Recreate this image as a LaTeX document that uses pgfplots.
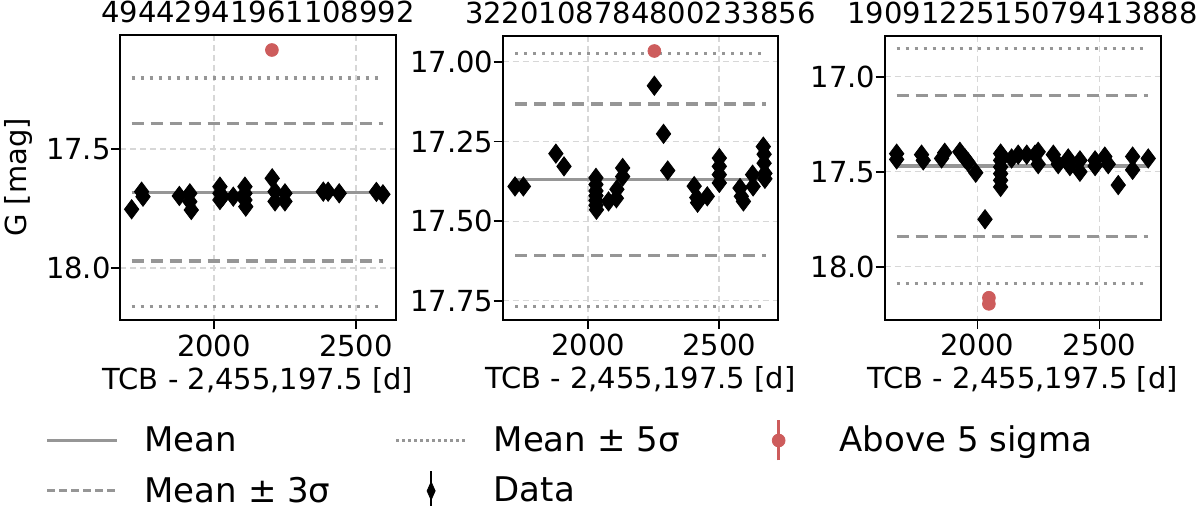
\documentclass[border=0pt]{standalone}
\usepackage{pgfplots}
\pgfplotsset{compat=1.18}
\usepackage{fontspec}
\setmainfont{DejaVu Sans}
\definecolor{lgray}{RGB}{150,150,150}
\definecolor{ired}{RGB}{205,92,92}
\definecolor{gridc}{RGB}{215,215,215}

\pgfplotsset{
  every axis title shift=0pt,
  panel/.style={
    scale only axis, width=138pt, height=142.5pt,
    y dir=reverse,
    axis line style={line width=0.9pt},
    every tick/.style={line width=0.9pt, black},
    major tick length=4.5pt,
    tick align=outside,
    xtick={2000,2500},
    xtick pos=bottom, ytick pos=left,
    grid=major,
    major grid style={gridc, line width=0.6pt, dash pattern=on 3pt off 2pt},
    ticklabel style={font=\fontsize{14.5}{16}\selectfont},
    /pgf/number format/assume math mode=true,
    /pgf/number format/set thousands separator={},
    xticklabel style={anchor=base, inner sep=0pt, yshift=-13.5pt},
    yticklabel style={anchor=east, inner sep=0pt},
    xlabel={TCB - 2,455,197.5 [d]},
    xlabel style={font=\fontsize{14.5}{16}\selectfont, at={(axis description cs:0.5,0)}, anchor=base, yshift=-34.5pt},
    title style={font=\fontsize{14.5}{16}\selectfont, at={(axis description cs:0.5,1)}, anchor=base, yshift=6pt},
    clip=false,
  },
  meanl/.style={lgray, line width=1.6pt, no marks},
  s3l/.style={lgray, line width=1.6pt, no marks, dash pattern=on 6pt off 3.5pt},
  s5l/.style={lgray, line width=1.6pt, no marks, dash pattern=on 1.5pt off 3pt},
  datal/.style={only marks, mark=diamond*, mark size=4.8pt, mark options={fill=black, draw=black, line width=0.4pt}},
  redl/.style={only marks, mark=*, mark size=3.2pt, mark options={fill=ired, draw=ired}},
}

\begin{document}
\begin{tikzpicture}
\useasboundingbox (0pt,0pt) rectangle (600pt,-253pt);

% ---------- Panel 1
\begin{axis}[panel, at={(60pt,-17.5pt)}, anchor=north west,
  xmin=1669, xmax=2641, ymin=17.021, ymax=18.218,
  ytick={17.5,18.0},
  yticklabel style={/pgf/number format/.cd, fixed, fixed zerofill, precision=1},
  ylabel={G [mag]},
  ylabel style={font=\fontsize{14.5}{16}\selectfont, at={(axis description cs:-0.366,0.5)}, anchor=center},
  title={49442941961108992},
  legend columns=3,
  legend cell align=left,
  legend style={at={(axis description cs:-0.2717,-0.347)}, anchor=north west, draw=none, fill=none,
    inner sep=0pt, font=\fontsize{17}{19}\selectfont, row sep=4pt,
    /tikz/every even column/.append style={column sep=30pt},
    /tikz/every odd column/.append style={column sep=11pt}},
]
\addplot[meanl, forget plot] coordinates {(1710,17.682) (2595,17.682)};
\addplot[s3l, forget plot] coordinates {(1710,17.394) (2595,17.394)};
\addplot[s3l, forget plot] coordinates {(1710,17.970) (2595,17.970)};
\addplot[s5l, forget plot] coordinates {(1710,17.202) (2595,17.202)};
\addplot[s5l, forget plot] coordinates {(1710,18.162) (2595,18.162)};
\addplot[datal, forget plot] table {
x y
1710 17.753
1745 17.679
1750 17.700
1878 17.697
1915 17.686
1915 17.721
1920 17.756
2021 17.658
2021 17.686
2021 17.714
2030 17.700
2068 17.700
2109 17.658
2109 17.686
2109 17.714
2112 17.742
2205 17.623
2215 17.679
2215 17.720
2250 17.686
2250 17.720
2385 17.679
2402 17.679
2441 17.686
2572 17.680
2595 17.690
};
\addplot[redl, forget plot] coordinates {(2204,17.084)};

\addlegendimage{legend image code/.code={\path[draw=none,fill=none] (0pt,-10pt) rectangle (35pt,10pt); \draw[lgray, line width=1.6pt, solid] (0pt,0pt)--(35pt,0pt);}}
\addlegendentry{Mean}
\addlegendimage{legend image code/.code={\path[draw=none,fill=none] (0pt,-10pt) rectangle (35pt,10pt); \draw[lgray, line width=1.6pt, dash pattern=on 1.2pt off 1.8pt] (0pt,0pt)--(35pt,0pt);}}
\addlegendentry{Mean ± 5σ}
\addlegendimage{legend image code/.code={\path[draw=none,fill=none] (0pt,-10pt) rectangle (35pt,10pt); \draw[ired, line width=1.2pt, solid] (17.5pt,-10pt)--(17.5pt,10pt); \fill[ired] (17.5pt,0pt) circle (3.2pt);}}
\addlegendentry{Above 5 sigma}
\addlegendimage{legend image code/.code={\path[draw=none,fill=none] (0pt,-10pt) rectangle (35pt,10pt); \draw[lgray, line width=1.6pt, dash pattern=on 4pt off 2pt] (0pt,0pt)--(35pt,0pt);}}
\addlegendentry{Mean ± 3σ}
\addlegendimage{legend image code/.code={\path[draw=none,fill=none] (0pt,-10pt) rectangle (35pt,10pt); \draw[black, line width=1.2pt, solid] (17.5pt,-10pt)--(17.5pt,10pt); \fill[black] (17.5pt,-4.5pt)--(19.5pt,0pt)--(17.5pt,4.5pt)--(15.5pt,0pt)--cycle;}}
\addlegendentry{Data}
\end{axis}

% ---------- Panel 2
\begin{axis}[panel, at={(251.35pt,-17.85pt)}, anchor=north west, height=142.15pt, width=137.65pt,
  xmin=1674, xmax=2725, ymin=16.918, ymax=17.81,
  ytick={17.0,17.25,17.5,17.75},
  yticklabel style={/pgf/number format/.cd, fixed, fixed zerofill, precision=2},
  title={3220108784800233856},
]
\addplot[meanl] coordinates {(1721,17.370) (2680,17.370)};
\addplot[s3l] coordinates {(1721,17.132) (2680,17.132)};
\addplot[s3l] coordinates {(1721,17.608) (2680,17.608)};
\addplot[s5l] coordinates {(1721,16.973) (2680,16.973)};
\addplot[s5l] coordinates {(1721,17.767) (2680,17.767)};
\addplot[datal] table {
x y
1721 17.391
1753 17.391
1877 17.288
1908 17.328
2030 17.364
2030 17.385
2030 17.405
2030 17.420
2030 17.435
2030 17.450
2032 17.464
2078 17.438
2108 17.428
2110 17.400
2132 17.333
2132 17.360
2253 17.075
2288 17.226
2304 17.341
2405 17.390
2415 17.426
2418 17.442
2455 17.422
2501 17.302
2501 17.328
2501 17.354
2501 17.380
2580 17.396
2585 17.422
2593 17.438
2628 17.354
2630 17.391
2669 17.266
2672 17.290
2672 17.318
2675 17.350
2675 17.367
};
\addplot[redl] coordinates {(2253,16.966)};
\end{axis}

% ---------- Panel 3
\begin{axis}[panel, at={(442.35pt,-17.85pt)}, anchor=north west, height=142.15pt,
  xmin=1620, xmax=2751, ymin=16.784, ymax=18.28,
  ytick={17.0,17.5,18.0},
  yticklabel style={/pgf/number format/.cd, fixed, fixed zerofill, precision=1},
  title={1909122515079413888},
]
\addplot[meanl] coordinates {(1669,17.470) (2700,17.470)};
\addplot[s3l] coordinates {(1669,17.100) (2700,17.100)};
\addplot[s3l] coordinates {(1669,17.842) (2700,17.842)};
\addplot[s5l] coordinates {(1669,16.853) (2700,16.853)};
\addplot[s5l] coordinates {(1669,18.088) (2700,18.088)};
\addplot[datal] table {
x y
1669 17.405
1669 17.435
1771 17.410
1778 17.440
1853 17.430
1866 17.400
1928 17.395
1949 17.430
1962 17.450
1993 17.505
2031 17.750
2095 17.404
2095 17.440
2095 17.475
2095 17.510
2095 17.545
2095 17.580
2140 17.430
2167 17.410
2202 17.410
2236 17.410
2249 17.395
2249 17.460
2311 17.410
2331 17.460
2372 17.430
2379 17.470
2420 17.440
2420 17.500
2482 17.440
2482 17.470
2522 17.420
2536 17.460
2577 17.570
2636 17.420
2636 17.490
2700 17.430
};
\addplot[redl] coordinates {(2047,18.163) (2047,18.195)};
\end{axis}
\end{tikzpicture}
\end{document}
